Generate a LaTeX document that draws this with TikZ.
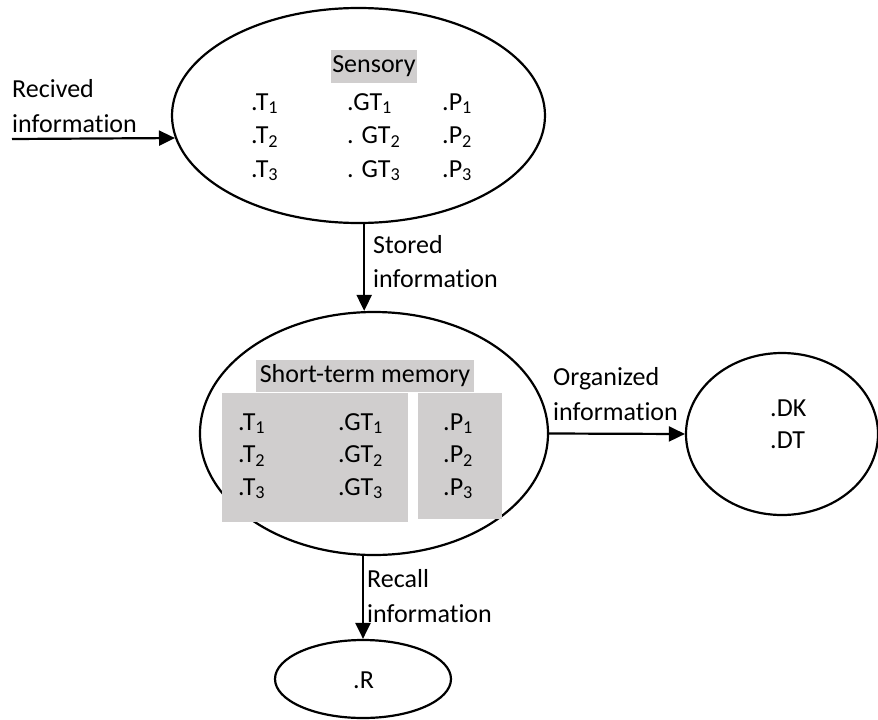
\documentclass[tikz,border=0pt]{standalone}
\usepackage{fontspec}
\setmainfont{Carlito}[Ligatures=NoCommon]
\usetikzlibrary{shapes.geometric,arrows.meta}
\definecolor{boxgray}{RGB}{208,206,206}
\tikzset{
  oval/.style={ellipse,draw,line width=2.2pt,inner sep=0pt},
  flow/.style={line width=2.2pt,-{Triangle[length=16pt,width=15pt]}},
  txt/.style={anchor=base west,inner sep=0pt,font=\fontsize{26}{31}\selectfont},
  headbox/.style={fill=boxgray,inner sep=0pt,font=\fontsize{26}{31}\selectfont},
}

\begin{document}
\begin{tikzpicture}[x=1pt,y=-1pt]
\useasboundingbox (0,0) rectangle (878,720);
%
\node[oval,minimum width=373pt,minimum height=215pt] (sensory) at (358.5,115.5) {};
\node[oval,minimum width=348pt,minimum height=243pt] (stm) at (374,433.5) {};
\node[oval,minimum width=192pt,minimum height=162pt] (dkdt) at (782,434) {};
\node[oval,minimum width=176pt,minimum height=78pt] (recall) at (363,679) {};
%
\node[headbox,minimum width=86pt,minimum height=33pt] (senshead) at (374,66.5) {Sensory};
\node[headbox,minimum width=218pt,minimum height=32pt] (stmhead) at (365,376) {Short-term memory};
\fill[boxgray] (222,393) rectangle (408,522);
\fill[boxgray] (418,393) rectangle (502,519);
%
\foreach \i/\yy/\g in {1/110/.GT,2/143.5/. GT,3/177/. GT}{
  \node[txt] (sensT\i) at (251,\yy) {.T\textsubscript{\i}};
  \node[txt] (sensG\i) at (347,\yy) {\g\textsubscript{\i}};
  \node[txt] (sensP\i) at (442,\yy) {.P\textsubscript{\i}};
}
\foreach \i/\yy in {1/430,2/462.5,3/495}{
  \node[txt] (stmT\i) at (238,\yy) {.T\textsubscript{\i}};
  \node[txt] (stmG\i) at (338,\yy) {.GT\textsubscript{\i}};
  \node[txt] (stmP\i) at (443,\yy) {.P\textsubscript{\i}};
}
\node[txt] (dk) at (770,416) {.DK};
\node[txt] (dt) at (770,448) {.DT};
\node[txt] (r) at (353,688) {.R};
%
\node[txt] (recvA) at (12,97) {Recived};
\node[txt] (recvB) at (12,132) {information};
\node[txt] (storA) at (373,253) {Stored};
\node[txt] (storB) at (373,287) {information};
\node[txt] (orgA) at (553,385) {Organized};
\node[txt] (orgB) at (553,420) {information};
\node[txt] (recA) at (367,587) {Recall};
\node[txt] (recB) at (367,622) {information};
%
\coordinate (recvtail) at (12,139);
\draw[flow] (recvtail) -- (sensory.187.4);
\draw[flow] (sensory.-87) -- (sensory.-87 |- stm.north);
\draw[flow] (stm.east) -- (dkdt.west);
\draw[flow] (recall.north |- stm.south) -- (recall.north);
\end{tikzpicture}
\end{document}
